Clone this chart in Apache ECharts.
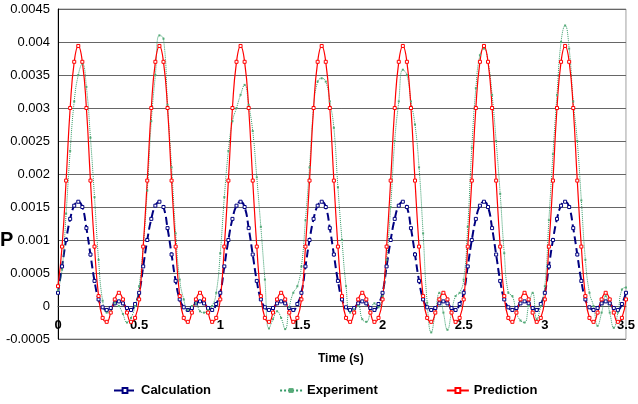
<!DOCTYPE html>
<html>
<head>
<meta charset="utf-8">
<script src="https://cdn.jsdelivr.net/npm/echarts@6/dist/echarts.min.js"></script>
<style>
  html, body { margin: 0; padding: 0; background: #fff; }
  #main { width: 638px; height: 404px; }
</style>
</head>
<body>
<div id="main"></div>
<script>
// 采样间隔 (s)
const dt = 0.025;

// Calculation (每行一个周期 0.5 s)
const calculation = [
  0.0002, 0.0006, 0.001, 0.00132, 0.00152, 0.00158, 0.0015, 0.00118, 0.00078, 0.00038, 0.0001, -0.00002, -0.00006, -0.00003, 0.00004, 0.00007, 0.00004, -0.00003, -0.00006, 0.00003,
  0.0002, 0.0006, 0.001, 0.00132, 0.00152, 0.00158, 0.0015, 0.00118, 0.00078, 0.00038, 0.0001, -0.00002, -0.00006, -0.00003, 0.00004, 0.00007, 0.00004, -0.00003, -0.00006, 0.00003,
  0.0002, 0.0006, 0.001, 0.00132, 0.00152, 0.00158, 0.0015, 0.00118, 0.00078, 0.00038, 0.0001, -0.00002, -0.00006, -0.00003, 0.00004, 0.00007, 0.00004, -0.00003, -0.00006, 0.00003,
  0.0002, 0.0006, 0.001, 0.00132, 0.00152, 0.00158, 0.0015, 0.00118, 0.00078, 0.00038, 0.0001, -0.00002, -0.00006, -0.00003, 0.00004, 0.00007, 0.00004, -0.00003, -0.00006, 0.00003,
  0.0002, 0.0006, 0.001, 0.00132, 0.00152, 0.00158, 0.0015, 0.00118, 0.00078, 0.00038, 0.0001, -0.00002, -0.00006, -0.00003, 0.00004, 0.00007, 0.00004, -0.00003, -0.00006, 0.00003,
  0.0002, 0.0006, 0.001, 0.00132, 0.00152, 0.00158, 0.0015, 0.00118, 0.00078, 0.00038, 0.0001, -0.00002, -0.00006, -0.00003, 0.00004, 0.00007, 0.00004, -0.00003, -0.00006, 0.00003,
  0.0002, 0.0006, 0.001, 0.00132, 0.00152, 0.00158, 0.0015, 0.00118, 0.00078, 0.00038, 0.0001, -0.00002, -0.00006, -0.00003, 0.00004, 0.00007, 0.00004, -0.00003, -0.00006, 0.00003,
  0.0002
];

// Experiment
const experiment = [
  0.00024, 0.00055, 0.0014, 0.00235, 0.0031, 0.0035, 0.00367, 0.00332, 0.00255, 0.00165, 0.0007, 0.00008, -0.0001, -0.00008, 0.00005, 0, -0.00012, -0.00025, -0.00018, 0,
  0.0003, 0.0009, 0.00175, 0.0028, 0.0035, 0.0041, 0.00405, 0.00305, 0.0021, 0.0011, 0.0004, 0.0001, -0.00006, 0, 0.00004, -0.00008, -0.0001, -0.00006, 0, 0.0002,
  0.0008, 0.00165, 0.00235, 0.0028, 0.003, 0.0032, 0.00335, 0.00305, 0.00265, 0.00195, 0.0012, 0.0004, -0.00034, -0.0002, -0.00008, -0.00018, -0.00035, -0.00002, 0.0002, 0.0003,
  0.0006, 0.0013, 0.0021, 0.003, 0.0034, 0.00345, 0.0034, 0.0031, 0.0027, 0.0018, 0.001, 0.0003, -0.0001, -0.00005, 0, -0.0002, -0.00024, -0.0001, 0.00004, -0.00002,
  0.00015, 0.0007, 0.0015, 0.0025, 0.0031, 0.00358, 0.0035, 0.0031, 0.00275, 0.0021, 0.0011, 0.00005, -0.0004, -0.0001, 0.0002, -0.0001, -0.00036, -0.0001, 0.00015, 0.0002,
  0.0004, 0.0012, 0.0024, 0.0033, 0.0038, 0.0039, 0.0037, 0.0032, 0.0025, 0.0017, 0.0008, 0.0002, 0.00015, -0.0001, -0.00022, -0.00025, 0, 0.0002, -0.0002, 0,
  0.0003, 0.0013, 0.0023, 0.0032, 0.004, 0.00425, 0.0039, 0.0031, 0.0025, 0.0016, 0.0007, 0.0002, 0, -0.0003, -0.0001, 0.00015, -0.0001, -0.00033, -0.0001, 0.00025,
  0.00028
];

// Prediction
const prediction = [
  0.0003, 0.0009, 0.0019, 0.003, 0.0037, 0.00394, 0.0037, 0.003, 0.0019, 0.0009, 0.00015, -0.00018, -0.00024, -0.0001, 0.0001, 0.0002, 0.0001, -0.0001, -0.00024, -0.00018,
  0.0001, 0.0009, 0.0019, 0.003, 0.0037, 0.00394, 0.0037, 0.003, 0.0019, 0.0009, 0.00015, -0.00018, -0.00024, -0.0001, 0.0001, 0.0002, 0.0001, -0.0001, -0.00024, -0.00018,
  0.0001, 0.0009, 0.0019, 0.003, 0.0037, 0.00394, 0.0037, 0.003, 0.0019, 0.0009, 0.00015, -0.00018, -0.00024, -0.0001, 0.0001, 0.0002, 0.0001, -0.0001, -0.00024, -0.00018,
  0.0001, 0.0009, 0.0019, 0.003, 0.0037, 0.00394, 0.0037, 0.003, 0.0019, 0.0009, 0.00015, -0.00018, -0.00024, -0.0001, 0.0001, 0.0002, 0.0001, -0.0001, -0.00024, -0.00018,
  0.0001, 0.0009, 0.0019, 0.003, 0.0037, 0.00394, 0.0037, 0.003, 0.0019, 0.0009, 0.00015, -0.00018, -0.00024, -0.0001, 0.0001, 0.0002, 0.0001, -0.0001, -0.00024, -0.00018,
  0.0001, 0.0009, 0.0019, 0.003, 0.0037, 0.00394, 0.0037, 0.003, 0.0019, 0.0009, 0.00015, -0.00018, -0.00024, -0.0001, 0.0001, 0.0002, 0.0001, -0.0001, -0.00024, -0.00018,
  0.0001, 0.0009, 0.0019, 0.003, 0.0037, 0.00394, 0.0037, 0.003, 0.0019, 0.0009, 0.00015, -0.00018, -0.00024, -0.0001, 0.0001, 0.0002, 0.0001, -0.0001, -0.00024, -0.00018,
  0.0001
];

// 时间-数值对
function toPairs(arr) {
  return arr.map(function (v, i) { return [+(i * dt).toFixed(3), v]; });
}

var chart = echarts.init(document.getElementById('main'));

var option = {
  animation: false,
  textStyle: { fontFamily: 'Liberation Sans, Arial, sans-serif' },
  grid: {
    left: 58, right: 10, top: 9, bottom: 65,
    show: true, borderColor: '#a0a0a0', borderWidth: 1
  },
  legend: {
    left: 113, top: 384, padding: 0,
    itemWidth: 22, itemHeight: 6, itemGap: 68,
    textStyle: { fontSize: 13, fontWeight: 'bold', color: '#000' },
    data: ['Calculation', 'Experiment', 'Prediction']
  },
  xAxis: {
    type: 'value',
    min: 0, max: 3.5, interval: 0.5,
    // 轴线放在 y = 0 处 (距底部 33px)
    offset: -33,
    axisLine: { onZero: false, lineStyle: { color: '#505050' } },
    axisTick: { show: false },
    axisLabel: { fontSize: 13, fontWeight: 'bold', color: '#000', margin: 13 },
    splitLine: { show: false }
  },
  yAxis: {
    type: 'value',
    min: -0.0005, max: 0.0045, interval: 0.0005,
    axisLine: { show: true, onZero: false, lineStyle: { color: '#000' } },
    axisTick: { show: false },
    axisLabel: { fontSize: 13, color: '#000', margin: 8 },
    splitLine: { lineStyle: { color: '#666' } }
  },
  graphic: [
    { type: 'text', left: 318, top: 353, style: { text: 'Time (s)', font: 'bold 12px Liberation Sans', fill: '#000' } },
    { type: 'text', left: 0, top: 230, style: { text: 'P', font: 'bold 20px Liberation Sans', fill: '#000' } }
  ],
  series: [
    {
      name: 'Calculation',
      type: 'line',
      data: toPairs(calculation),
      smooth: true,
      symbol: 'rect',
      symbolSize: 3,
      color: '#000080',
      itemStyle: { color: '#fff', borderColor: '#000080', borderWidth: 1 },
      lineStyle: { color: '#000080', width: 2, type: 'dashed' }
    },
    {
      name: 'Experiment',
      type: 'line',
      data: toPairs(experiment),
      smooth: true,
      symbol: 'rect',
      symbolSize: 2,
      color: '#339966',
      itemStyle: { color: '#55aa77' },
      lineStyle: { color: '#339966', width: 1, type: 'dotted' }
    },
    {
      name: 'Prediction',
      type: 'line',
      data: toPairs(prediction),
      smooth: true,
      symbol: 'rect',
      symbolSize: 3,
      color: '#ff0000',
      itemStyle: { color: '#fff', borderColor: '#ff0000', borderWidth: 1 },
      lineStyle: { color: '#ff0000', width: 1.2 }
    }
  ]
};

chart.setOption(option);
</script>
</body>
</html>
